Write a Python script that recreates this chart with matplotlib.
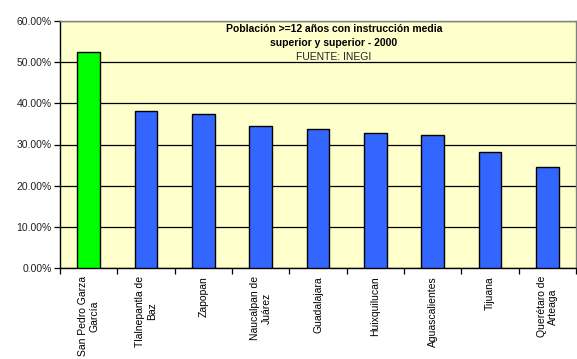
import numpy as np
import matplotlib.pyplot as plt

plt.rcParams['font.family'] = ['Liberation Sans', 'DejaVu Sans']

# municipios y porcentaje de poblacion >=12 con instruccion media superior y superior
municipios = ["San Pedro Garza\nGarcía", "Tlalnepantla de\nBaz", "Zapopan",
              "Naucalpan de\nJuárez", "Guadalajara", "Huixquilucan",
              "Aguascalientes", "Tijuana", "Querétaro de\nArteaga"]
porcentaje = [52.45, 38.15, 37.4, 34.6, 33.7, 32.9, 32.3, 28.2, 24.4]
colores = ["#00FF00"] + ["#3366FF"] * 8

fig = plt.figure(figsize=(5.77, 3.59), dpi=100)
ax = fig.add_axes([60/577, 1 - 267.7/359, 516/577, 246.4/359])
ax.set_facecolor("#FFFFCC")

x = np.arange(len(municipios))
ax.bar(x, porcentaje, width=0.4, color=colores, edgecolor="black", linewidth=1, zorder=3)

ax.set_xlim(-0.5, len(municipios) - 0.5)
ax.set_ylim(0, 60)
ax.set_yticks(np.arange(0, 61, 10))
ax.set_yticklabels(["%.2f%%" % v for v in np.arange(0, 61, 10)], fontsize=7.5, color="#222222")
ax.yaxis.grid(True, color="black", linewidth=0.9, zorder=1)
ax.tick_params(axis="y", length=4, width=0.9, pad=2)

# etiquetas en las categorias, marcas entre ellas
ax.set_xticks(x)
ax.set_xticklabels(municipios, rotation=90, fontsize=7.5, ha="center", va="top",
                   multialignment="center")
ax.tick_params(axis="x", which="major", length=0, pad=6)
ax.set_xticks(np.arange(-0.5, len(municipios) - 0.4, 1), minor=True)
ax.tick_params(axis="x", which="minor", length=4, width=0.9)

for s in ["left", "bottom"]:
    ax.spines[s].set_color("black")
    ax.spines[s].set_linewidth(1)
for s in ["top", "right"]:
    ax.spines[s].set_color("#808080")
    ax.spines[s].set_linewidth(1)

# titulo dentro del area de la grafica
ax.text(0.531, 0.969, "Población >=12 años con instrucción media", transform=ax.transAxes,
        ha="center", va="center", fontsize=7.5, fontweight="bold", zorder=4)
ax.text(0.531, 0.912, "superior y superior - 2000", transform=ax.transAxes,
        ha="center", va="center", fontsize=7.5, fontweight="bold", zorder=4)
ax.text(0.531, 0.855, "FUENTE: INEGI", transform=ax.transAxes, ha="center", va="center",
        fontsize=7.5, color="#222222", zorder=4)

fig.savefig("out.png", dpi=100)
